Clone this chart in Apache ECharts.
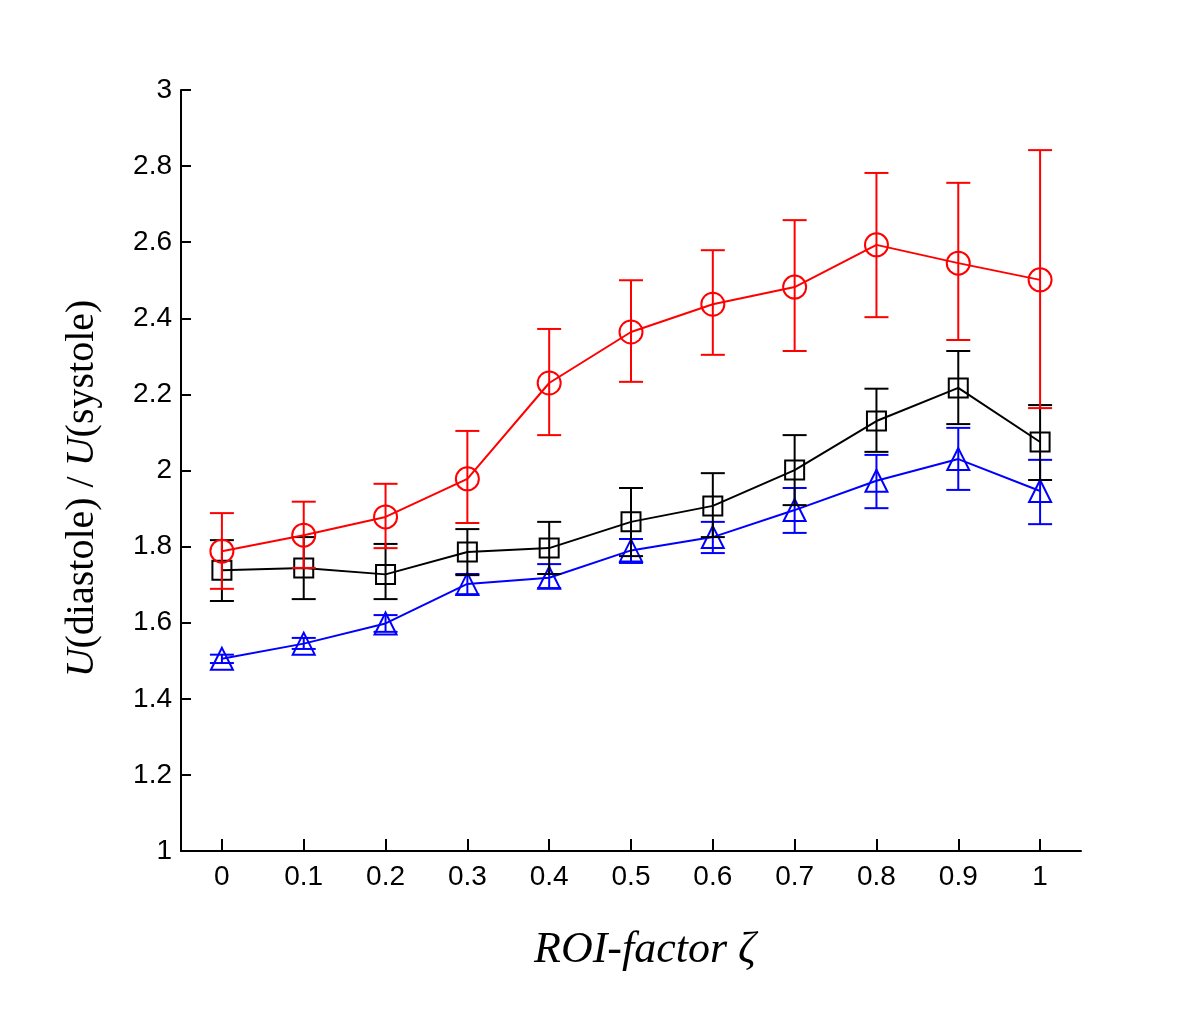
<!DOCTYPE html>
<html>
<head>
<meta charset="utf-8">
<script src="https://cdn.jsdelivr.net/npm/echarts@6/dist/echarts.min.js"></script>
<style>html,body{margin:0;padding:0;background:#fff}#c{width:1200px;height:1023px}</style>
</head>
<body>
<div id="c"></div>
<script>
var xTicks = [0, 0.1, 0.2, 0.3, 0.4, 0.5, 0.6, 0.7, 0.8, 0.9, 1];
var xValues = [0, 0.1, 0.2, 0.3, 0.4, 0.5, 0.6, 0.7, 0.8, 0.9, 1];

var redMean  = [1.788, 1.830, 1.878, 1.978, 2.230, 2.364, 2.437, 2.482, 2.593, 2.545, 2.501];
var redLow   = [1.689, 1.744, 1.796, 1.862, 2.093, 2.233, 2.304, 2.314, 2.403, 2.343, 2.164];
var redHigh  = [1.888, 1.918, 1.965, 2.104, 2.372, 2.500, 2.579, 2.658, 2.782, 2.756, 2.842];

var blackMean = [1.738, 1.744, 1.727, 1.786, 1.796, 1.865, 1.907, 2.001, 2.130, 2.217, 2.075];
var blackLow  = [1.657, 1.662, 1.662, 1.725, 1.728, 1.775, 1.825, 1.909, 2.049, 2.122, 1.975];
var blackHigh = [1.817, 1.825, 1.807, 1.846, 1.865, 1.954, 1.993, 2.093, 2.215, 2.314, 2.172];

var blueMean = [1.505, 1.545, 1.598, 1.702, 1.718, 1.790, 1.825, 1.896, 1.973, 2.030, 1.946];
var blueLow  = [1.494, 1.531, 1.576, 1.675, 1.691, 1.757, 1.783, 1.836, 1.901, 1.949, 1.859];
var blueHigh = [1.516, 1.560, 1.620, 1.728, 1.754, 1.820, 1.865, 1.954, 2.041, 2.112, 2.028];

function pairs(xs, ys) { return xs.map(function (x, i) { return [x, ys[i]]; }); }
function errData(xs, lo, hi) { return xs.map(function (x, i) { return [x, lo[i], hi[i]]; }); }

function errSeries(color, data, z) {
  return {
    type: 'custom', z: z, silent: true,
    data: data,
    encode: { x: 0, y: [1, 2] },
    renderItem: function (params, api) {
      var x = api.value(0);
      var lo = api.coord([x, api.value(1)]);
      var hi = api.coord([x, api.value(2)]);
      var hw = 12;
      var st = { stroke: color, lineWidth: 2, fill: null };
      return {
        type: 'group',
        children: [
          { type: 'line', shape: { x1: lo[0], y1: lo[1], x2: hi[0], y2: hi[1] }, style: st },
          { type: 'line', shape: { x1: lo[0] - hw, y1: lo[1], x2: lo[0] + hw, y2: lo[1] }, style: st },
          { type: 'line', shape: { x1: hi[0] - hw, y1: hi[1], x2: hi[0] + hw, y2: hi[1] }, style: st }
        ]
      };
    }
  };
}

function lineSeries(color, data, symbol, size, z) {
  return {
    type: 'line', z: z, data: data, symbol: symbol, symbolSize: size,
    showAllSymbol: true,
    lineStyle: { color: color, width: 2 },
    itemStyle: { color: 'rgba(0,0,0,0)', borderColor: color, borderWidth: 2 },
    emphasis: { disabled: true }, animation: false
  };
}

var chart = echarts.init(document.getElementById('c'));
chart.setOption({
  animation: false,
  backgroundColor: '#fff',
  grid: { left: 181, right: 119, top: 90, bottom: 172 },
  xAxis: {
    type: 'value', min: -0.05, max: 1.05,
    name: 'ROI-factor ζ', nameLocation: 'middle', nameGap: 77,
    nameTextStyle: { fontFamily: 'Liberation Serif', fontStyle: 'italic', fontSize: 44, color: '#000',
      padding: [0, 0, 0, 28] },
    axisLine: { onZero: false, lineStyle: { color: '#000', width: 2 } },
    axisTick: { inside: true, length: 12, lineStyle: { color: '#000', width: 2 }, customValues: xTicks },
    axisLabel: { customValues: xTicks, color: '#000', fontFamily: 'Liberation Sans', fontSize: 28, margin: 12,
      formatter: function (v) { return String(Math.round(v * 10) / 10); } },
    splitLine: { show: false }
  },
  yAxis: {
    type: 'value', min: 1, max: 3, interval: 0.2,
    name: '{i|U}(diastole) / {i|U}(systole)', nameLocation: 'middle', nameGap: 79, nameRotate: 90,
    nameTextStyle: { fontFamily: 'Liberation Serif', fontSize: 40, color: '#000', padding: [0, 36, 0, 0],
      rich: { i: { fontFamily: 'Liberation Serif', fontStyle: 'italic', fontSize: 40, color: '#000' } } },
    axisLine: { show: true, onZero: false, lineStyle: { color: '#000', width: 2 } },
    axisTick: { show: true, inside: true, length: 10, lineStyle: { color: '#000', width: 2 } },
    axisLabel: { color: '#000', fontFamily: 'Liberation Sans', fontSize: 28, margin: 9,
      formatter: function (v) { return String(Math.round(v * 10) / 10); } },
    splitLine: { show: false }
  },
  series: [
    errSeries('#0000ff', errData(xValues, blueLow, blueHigh), 2),
    lineSeries('#0000ff', pairs(xValues, blueMean), 'triangle', 22, 3),
    errSeries('#000000', errData(xValues, blackLow, blackHigh), 4),
    lineSeries('#000000', pairs(xValues, blackMean), 'rect', 19, 5),
    errSeries('#ff0000', errData(xValues, redLow, redHigh), 6),
    lineSeries('#ff0000', pairs(xValues, redMean), 'circle', 23, 7)
  ]
});
</script>
</body>
</html>
